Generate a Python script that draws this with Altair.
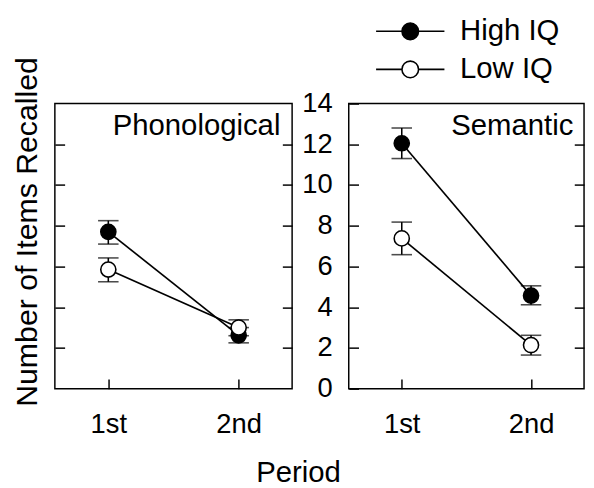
import altair as alt
import pandas as pd

panels = ["Phonological"] * 4 + ["Semantic"] * 4
periods = ["1st", "2nd", "1st", "2nd", "1st", "2nd", "1st", "2nd"]
groups = ["High IQ", "High IQ", "Low IQ", "Low IQ"] * 2
means = [7.7, 2.62, 5.85, 3.0, 12.05, 4.57, 7.38, 2.14]
lows = [7.1, 2.25, 5.25, 2.6, 11.3, 4.12, 6.58, 1.65]
highs = [8.25, 3.0, 6.42, 3.38, 12.8, 5.05, 8.18, 2.62]
y_ticks = [0, 2, 4, 6, 8, 10, 12, 14]
inner_ticks = [2, 4, 6, 8, 10, 12]
period_labels = ["1st", "2nd"]
group_names = ["High IQ", "Low IQ"]

df = pd.DataFrame(dict(panel=panels, period=periods, group=groups,
                       mean=means, lo=lows, hi=highs))

FONT = "Liberation Sans"
INWARD = alt.ExprRef("-10")
yscale = alt.Scale(domain=[0, 14], nice=False, zero=True)
xscale = alt.Scale(type="point", domain=period_labels, padding=0.41)
fillscale = alt.Scale(domain=group_names, range=["black", "white"])

legend_path = ("M-3.5,0L-0.85,0M0.85,0L3.5,0"
               "M-0.85,0A0.85,0.85,0,1,1,0.85,0A0.85,0.85,0,1,1,-0.85,0Z")
legend = alt.Legend(orient="none", legendX=349, legendY=-89, title=None,
                    symbolType=legend_path, symbolSize=400,
                    symbolStrokeColor="black", symbolStrokeWidth=1.6,
                    labelFontSize=30, labelFont=FONT, labelColor="black",
                    labelOffset=36, rowPadding=9, padding=0)

xaxis = alt.Axis(values=period_labels, labelAngle=0, labelFontSize=28,
                 labelFont=FONT, labelColor="black", domain=False, grid=False,
                 tickSize=INWARD, tickColor="black", tickWidth=1.5,
                 labelPadding=33, title=None)


def tick_axis(orient, labels, title=None):
    kw = dict(orient=orient, domain=False, grid=False, tickSize=INWARD,
              tickColor="black", tickWidth=1.5)
    if labels:
        kw.update(values=y_ticks, labels=True, labelFontSize=28, labelFont=FONT,
                  labelColor="black", labelPadding=27)
    else:
        kw.update(values=inner_ticks, labels=False)
    if title:
        kw.update(title=title, titleFontSize=31, titleFont=FONT,
                  titleFontWeight="normal", titleColor="black",
                  titlePadding=11, titleY=131)
    else:
        kw.update(title=None)
    return alt.Axis(**kw)


def panel(name, width, left_axis, inset):
    base = alt.Chart(df).transform_filter(alt.datum.panel == name)
    x = alt.X("period:N", scale=xscale, sort=period_labels, axis=xaxis)
    bars = base.mark_rule(color="black", strokeWidth=1.6).encode(
        x=x, y=alt.Y("lo:Q", scale=yscale, axis=left_axis), y2="hi:Q")
    caps = base.transform_fold(["lo", "hi"], as_=["k", "v"]).mark_tick(
        color="black", thickness=1.6, size=21).encode(
        x=x, y=alt.Y("v:Q", scale=yscale, axis=tick_axis("right", False)))
    lines = base.mark_line(color="black", strokeWidth=1.7).encode(
        x=x, y=alt.Y("mean:Q", scale=yscale, axis=None), detail="group:N")
    pts = base.mark_circle(size=240, stroke="black", strokeWidth=1.6,
                           opacity=1).encode(
        x=x, y=alt.Y("mean:Q", scale=yscale, axis=None),
        fill=alt.Fill("group:N", scale=fillscale, legend=legend))
    label = alt.Chart(pd.DataFrame({"label": [name]})).mark_text(
        align="right", baseline="alphabetic", fontSize=30, font=FONT,
        color="black").encode(text="label:N", x=alt.value(width - inset),
                              y=alt.value(32))
    return alt.layer(bars, caps, lines, pts, label).resolve_axis(
        y="independent").properties(width=width, height=292)


left = panel("Phonological", 243,
             tick_axis("left", False, "Number of Items Recalled"), 12)
right = panel("Semantic", 241, tick_axis("left", True), 11)

chart = alt.hconcat(left, right, spacing=58, bounds="flush").properties(
    padding={"left": 3, "top": 3, "right": 0, "bottom": 0},
    background="white",
    title=alt.TitleParams("Period", orient="bottom", anchor="middle",
                          fontSize=30, font=FONT, fontWeight="normal",
                          color="black", offset=20)
).configure_view(stroke="black", strokeWidth=1.5)

chart.save("out.html", embed_options={"renderer": "svg", "actions": False})
